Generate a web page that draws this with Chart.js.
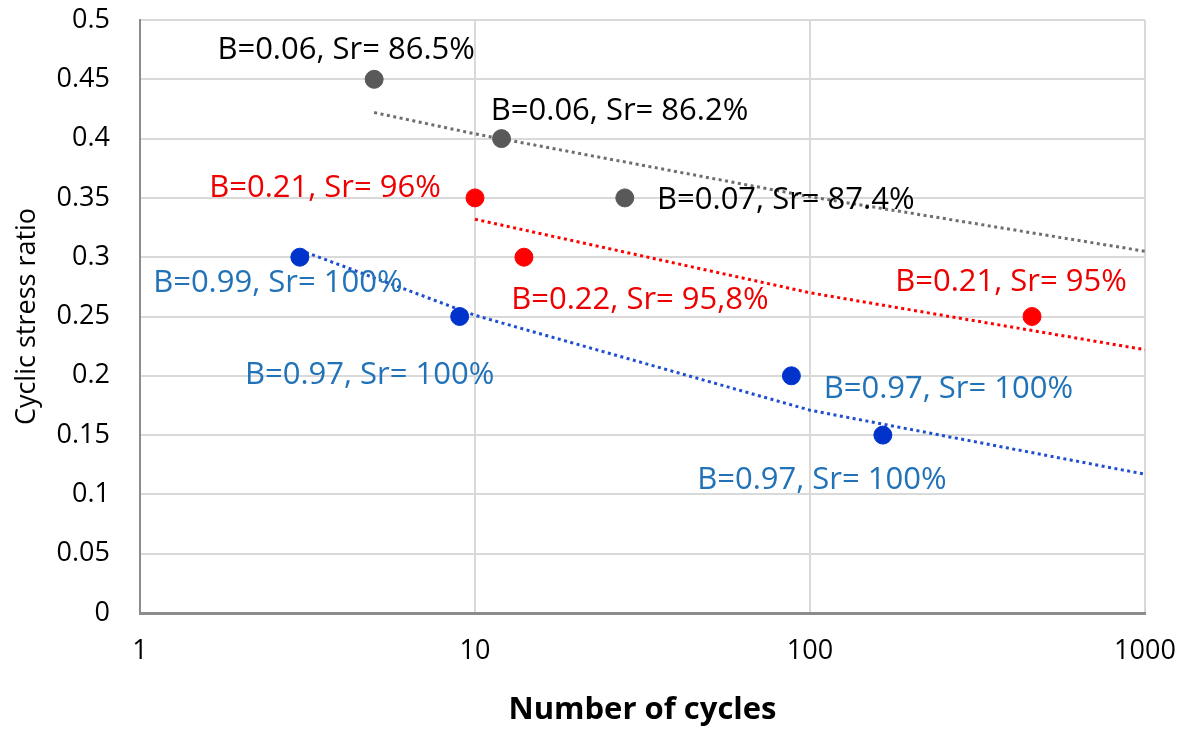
<!DOCTYPE html>
<html>
<head>
<meta charset="utf-8">
<title>Cyclic stress ratio vs number of cycles</title>
<script src="https://cdn.jsdelivr.net/npm/chart.js@4.4.1/dist/chart.umd.min.js"></script>
<style>
	body { margin: 0; background: #ffffff; }
	#chart_node { display: block; }
</style>
</head>
<body>
<canvas id="chart_node" width="1187" height="731"></canvas>
<script>
//-----------------------------------------------------------------------------
// data
//-----------------------------------------------------------------------------
var grayCycles = [5, 12, 28];
var grayRatio = [0.45, 0.40, 0.35];
var grayLabels = ["B=0.06, Sr= 86.5%", "B=0.06, Sr= 86.2%", "B=0.07, Sr= 87.4%"];

var redCycles = [10, 14, 460];
var redRatio = [0.35, 0.30, 0.25];
var redLabels = ["B=0.21, Sr= 96%", "B=0.22, Sr= 95,8%", "B=0.21, Sr= 95%"];

var blueCycles = [3, 9, 88, 165];
var blueRatio = [0.30, 0.25, 0.20, 0.15];
var blueLabels = ["B=0.99, Sr= 100%", "B=0.97, Sr= 100%", "B=0.97, Sr= 100%", "B=0.97, Sr= 100%"];

// dotted trend lines, read at a few places along each line
var grayTrendCycles = [5, 10, 100, 1000];
var grayTrendRatio = [0.422, 0.404, 0.351, 0.305];
var redTrendCycles = [10, 100, 1000];
var redTrendRatio = [0.332, 0.270, 0.222];
var blueTrendCycles = [3, 10, 100, 1000];
var blueTrendRatio = [0.306, 0.251, 0.171, 0.117];

var xTickValues = [1, 10, 100, 1000];
var xTickLabels = ["1", "10", "100", "1000"];
var yTickLabels = ["0", "0.05", "0.1", "0.15", "0.2", "0.25", "0.3", "0.35", "0.4", "0.45", "0.5"];

//-----------------------------------------------------------------------------
// label placement (pixel offsets of text centre from its point)
//-----------------------------------------------------------------------------
var grayLabelOffsets = [[-28, -29], [118, -27], [161, 2]];
var redLabelOffsets = [[-150, -10], [116, 43], [-21, -34]];
var blueLabelOffsets = [[-22, 26], [-90, 59], [157, 13], [-61, 45]];

var FONT = "'Open Sans', 'DejaVu Sans', sans-serif";
var GRAY = "#595959";
var RED = "#ff0000";
var BLUE = "#0033cc";

function make_points(xs, ys)
{
	var out = [];
	for (var i = 0; i < xs.length; i++)
		out.push({x: xs[i], y: ys[i]});
	return out;
}

function trend_set(xs, ys, colour)
{
	return {
		type: "line",
		data: make_points(xs, ys),
		borderColor: colour,
		borderWidth: 3,
		borderDash: [3, 3.5],
		pointRadius: 0,
		fill: false,
		tension: 0,
		order: 2
	};
}

function point_set(xs, ys, colour, labels, offsets, textColour)
{
	return {
		type: "scatter",
		data: make_points(xs, ys),
		backgroundColor: colour,
		borderColor: colour,
		pointRadius: 9,
		pointHoverRadius: 9,
		order: 1,
		_labels: labels,
		_offsets: offsets,
		_textColour: textColour
	};
}

// draws the B/Sr texts next to each point
var pointLabels = {
	id: "pointLabels",
	afterDatasetsDraw: function(chart)
	{
		var ctx = chart.ctx;
		var xs = chart.scales.x, ys = chart.scales.y;
		ctx.save();
		ctx.font = "31px " + FONT;
		ctx.textAlign = "center";
		ctx.textBaseline = "middle";
		chart.data.datasets.forEach(function(ds)
		{
			if (!ds._labels) return;
			ctx.fillStyle = ds._textColour;
			ds.data.forEach(function(p, i)
			{
				var px = xs.getPixelForValue(p.x);
				var py = ys.getPixelForValue(p.y);
				ctx.fillText(ds._labels[i], px + ds._offsets[i][0], py + ds._offsets[i][1]);
			});
		});
		ctx.restore();
	}
};

new Chart(document.getElementById("chart_node"), {
	data: {
		datasets: [
			trend_set(grayTrendCycles, grayTrendRatio, "#6e6e6e"),
			trend_set(redTrendCycles, redTrendRatio, RED),
			trend_set(blueTrendCycles, blueTrendRatio, "#1f4fd0"),
			point_set(grayCycles, grayRatio, GRAY, grayLabels, grayLabelOffsets, "#000000"),
			point_set(redCycles, redRatio, RED, redLabels, redLabelOffsets, "#ee0000"),
			point_set(blueCycles, blueRatio, BLUE, blueLabels, blueLabelOffsets, "#2272b8")
		]
	},
	options: {
		responsive: false,
		animation: false,
		events: [],
		layout: {padding: {left: 0, top: 20, right: 42, bottom: 0}},
		plugins: {
			legend: {display: false},
			tooltip: {enabled: false}
		},
		scales: {
			x: {
				type: "logarithmic",
				min: 1,
				max: 1000,
				afterBuildTicks: function(scale)
				{
					scale.ticks = xTickValues.map(function(v) { return {value: v}; });
				},
				afterFit: function(scale)
				{
					scale.height = 118;
					scale.paddingLeft = 0;
					scale.paddingRight = 0;
				},
				ticks: {
					autoSkip: false,
					maxRotation: 0,
					padding: 22,
					color: "#000000",
					font: {family: FONT, size: 27},
					callback: function(value, index) { return xTickLabels[index]; }
				},
				grid: {color: "#d9d9d9", lineWidth: 2, drawTicks: false},
				border: {color: "#8c8c8c", width: 3},
				title: {
					display: true,
					text: "Number of cycles",
					color: "#000000",
					font: {family: FONT, size: 31, weight: "bold"},
					padding: {top: 0, bottom: 2}
				}
			},
			y: {
				min: 0,
				max: 0.5,
				afterBuildTicks: function(scale)
				{
					scale.ticks = yTickLabels.map(function(t, i) { return {value: i * 0.05}; });
				},
				afterFit: function(scale)
				{
					scale.width = 140;
					scale.paddingTop = 0;
					scale.paddingBottom = 0;
				},
				ticks: {
					padding: 30,
					color: "#000000",
					font: {family: FONT, size: 27},
					callback: function(value, index) { return yTickLabels[index]; }
				},
				grid: {color: "#d9d9d9", lineWidth: 2, drawTicks: false},
				border: {color: "#8c8c8c", width: 2},
				title: {
					display: true,
					text: "Cyclic stress ratio",
					color: "#000000",
					font: {family: FONT, size: 27},
					padding: {top: 11, bottom: 0}
				}
			}
		}
	},
	plugins: [pointLabels]
});
</script>
</body>
</html>
